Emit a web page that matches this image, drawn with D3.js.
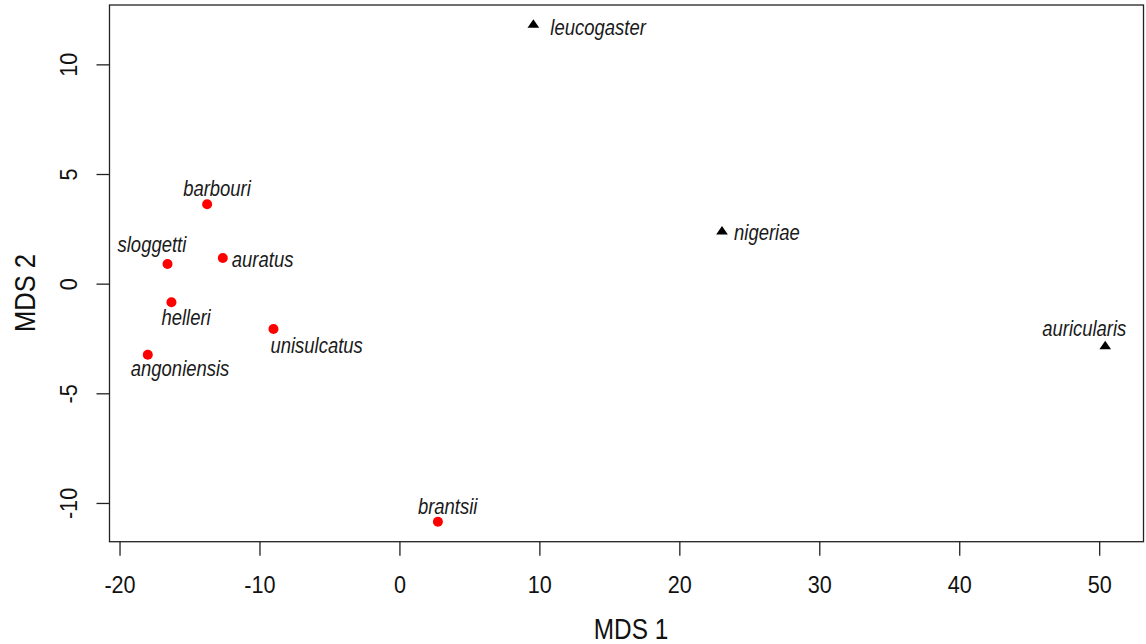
<!DOCTYPE html>
<html>
<head>
<meta charset="utf-8">
<script src="https://cdn.jsdelivr.net/npm/d3@7"></script>
<style>
  body { margin: 0; background: #fff; }
  svg text { font-family: "Liberation Sans", Arial, sans-serif; }
</style>
</head>
<body>
<svg id="chart"></svg>
<script>
// MDS ordination scores
const species = ["leucogaster", "nigeriae", "auricularis", "barbouri", "sloggetti",
                 "auratus", "helleri", "unisulcatus", "angoniensis", "brantsii"];
const mds1 = [9.57, 23.05, 50.43, -13.74, -16.57, -12.62, -16.29, -9.0, -17.98, 2.75];
const mds2 = [11.8, 2.37, -2.86, 3.62, 0.9, 1.17, -0.85, -2.07, -3.24, -10.86];
const group = ["B", "B", "B", "A", "A", "A", "A", "A", "A", "A"];

const xTicks = [-20, -10, 0, 10, 20, 30, 40, 50];
const yTicks = [-10, -5, 0, 5, 10];

// label nudges in px (start of text, baseline) relative to the point
const labelNudge = {
  leucogaster: [17, 10], nigeriae: [12, 8], auricularis: [-63, -10],
  barbouri: [-24, -8], sloggetti: [-50, -12], auratus: [9, 9],
  helleri: [-10, 23], unisulcatus: [-3, 24], angoniensis: [-17, 21],
  brantsii: [-20, -8]
};

const config = { width: 1146, height: 644, left: 109.5, right: 1143.5, top: 5, bottom: 541.7 };
const squeeze = 0.84; // the original uses a narrow face
const tickSqueeze = 0.9;

const data = species.map((s, i) => ({ name: s, x: mds1[i], y: mds2[i], g: group[i] }));

// R-style 4% padding of the data range
function pad(ext) {
  const d = (ext[1] - ext[0]) * 0.04;
  return [ext[0] - d, ext[1] + d];
}

const svg = d3.select("#chart")
  .attr("width", config.width)
  .attr("height", config.height);

const xScale = d3.scaleLinear()
  .domain(pad(d3.extent(mds1)))
  .range([config.left, config.right]);

const yScale = d3.scaleLinear()
  .domain(pad(d3.extent(mds2)))
  .range([config.bottom, config.top]);

const xAxis = d3.axisBottom(xScale).tickValues(xTicks).tickFormat(d => String(d))
  .tickSize(14).tickPadding(20).tickSizeOuter(0);
const yAxis = d3.axisLeft(yScale).tickValues(yTicks).tickFormat(d => String(d))
  .tickSize(13).tickPadding(20).tickSizeOuter(0);

const xg = svg.append("g")
  .attr("transform", `translate(0,${config.bottom})`)
  .call(xAxis);
xg.select(".domain").remove();
xg.selectAll("line").attr("stroke", "#222").attr("stroke-width", 1.3);
xg.selectAll("text")
  .attr("font-size", 24).attr("fill", "#111")
  .attr("font-family", "Liberation Sans, Arial, sans-serif")
  .attr("transform", `scale(${tickSqueeze},1)`);

const yg = svg.append("g")
  .attr("transform", `translate(${config.left},0)`)
  .call(yAxis);
yg.select(".domain").remove();
yg.selectAll("line").attr("stroke", "#222").attr("stroke-width", 1.3);
yg.selectAll(".tick text")
  .attr("font-size", 24).attr("fill", "#111")
  .attr("font-family", "Liberation Sans, Arial, sans-serif")
  .attr("text-anchor", "middle")
  .attr("dy", null)
  .attr("x", 0)
  .attr("y", 0)
  .attr("dominant-baseline", "central")
  .attr("transform", `translate(-41,0) rotate(-90) scale(${tickSqueeze},1)`);

// frame
svg.append("rect")
  .attr("x", config.left)
  .attr("y", config.top)
  .attr("width", config.right - config.left)
  .attr("height", config.bottom - config.top)
  .attr("fill", "none")
  .attr("stroke", "#222")
  .attr("stroke-width", 1.3);

// axis titles
svg.append("text")
  .attr("transform", `translate(631,639) scale(${squeeze},1)`)
  .attr("text-anchor", "middle")
  .attr("font-size", 29)
  .attr("fill", "#111")
  .text("MDS 1");

svg.append("text")
  .attr("transform", `translate(35,293) rotate(-90) scale(0.88,1)`)
  .attr("text-anchor", "middle")
  .attr("font-size", 29)
  .attr("fill", "#111")
  .text("MDS 2");

// points
const flatTriangle = {
  draw(ctx, size) {
    const w = Math.sqrt(size) * 0.78, h = w * 1.45;
    ctx.moveTo(0, -h * 2 / 3);
    ctx.lineTo(w, h / 3);
    ctx.lineTo(-w, h / 3);
    ctx.closePath();
  }
};
const triangle = d3.symbol().type(flatTriangle).size(56);

svg.selectAll(".dot")
  .data(data.filter(d => d.g === "A"))
  .join("circle")
  .attr("class", "dot")
  .attr("cx", d => xScale(d.x))
  .attr("cy", d => yScale(d.y))
  .attr("r", 5)
  .attr("fill", "#ff0000");

svg.selectAll(".tri")
  .data(data.filter(d => d.g === "B"))
  .join("path")
  .attr("class", "tri")
  .attr("d", triangle)
  .attr("transform", d => `translate(${xScale(d.x)},${yScale(d.y)})`)
  .attr("fill", "#000");

// species labels
svg.selectAll(".lab")
  .data(data)
  .join("text")
  .attr("class", "lab")
  .attr("transform", d => `translate(${xScale(d.x) + labelNudge[d.name][0]},${yScale(d.y) + labelNudge[d.name][1]}) scale(${squeeze},1)`)
  .attr("font-size", 22)
  .attr("font-style", "italic")
  .attr("fill", "#1a1a1a")
  .text(d => d.name);
</script>
</body>
</html>
